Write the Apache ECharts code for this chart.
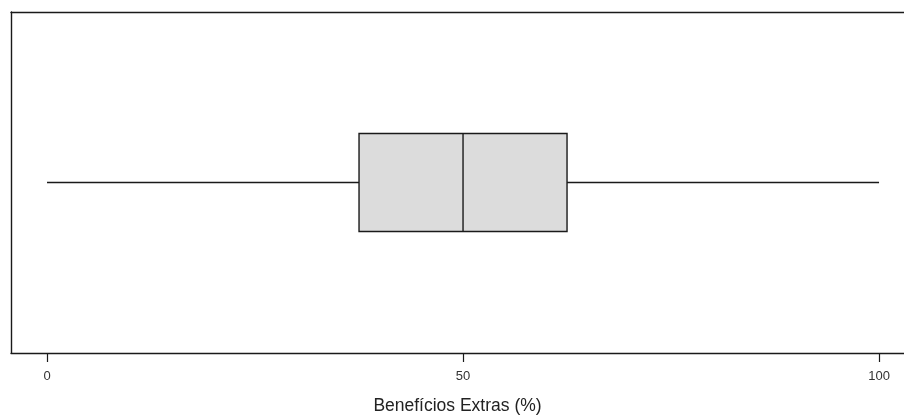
<!DOCTYPE html>
<html>
<head>
<meta charset="utf-8">
<script src="https://cdn.jsdelivr.net/npm/echarts@6/dist/echarts.min.js"></script>
<style>
html,body{margin:0;padding:0;background:#fff;}
#c{width:904px;height:417px;}
</style>
</head>
<body>
<div id="c"></div>
<script>
// Data
const categories = ['Benefícios Extras'];
const boxStats = [[0, 0, 37.5, 50, 62.5, 100]]; // [catIndex, min, Q1, median, Q3, max]
const tickValues = [0, 50, 100];
const axisTitle = 'Benefícios Extras (%)';

const chart = echarts.init(document.getElementById('c'), null, {renderer: 'canvas'});

const lineStyle = {stroke: '#1a1a1a', lineWidth: 1.4};
const frameLine = {color: '#1a1a1a', width: 1.4};
const xMin = -4.33, xMax = 103.0;

chart.setOption({
  animation: false,
  backgroundColor: '#fff',
  grid: {left: 11, top: 12, right: 0, height: 341, show: false, containLabel: false, outerBoundsMode: 'none'},
  xAxis: [{
    type: 'value',
    min: xMin, max: xMax,
    splitLine: {show: false},
    axisLine: {show: true, onZero: false, lineStyle: frameLine},
    axisTick: {show: true, length: 9, customValues: tickValues, lineStyle: {color: '#1a1a1a', width: 1.2}},
    axisLabel: {show: true, customValues: tickValues, margin: 17, fontSize: 13, color: '#333', fontFamily: 'Liberation Sans, Arial, sans-serif'},
    name: axisTitle,
    nameLocation: 'middle',
    nameGap: 44,
    nameTextStyle: {fontSize: 17.5, color: '#222', fontFamily: 'Liberation Sans, Arial, sans-serif'}
  }, {
    type: 'value',
    position: 'top',
    min: xMin, max: xMax,
    splitLine: {show: false},
    axisLine: {show: true, onZero: false, lineStyle: frameLine},
    axisTick: {show: false},
    axisLabel: {show: false}
  }],
  yAxis: {
    type: 'category',
    data: categories,
    axisLine: {show: true, onZero: false, lineStyle: frameLine},
    axisTick: {show: false},
    axisLabel: {show: false},
    splitLine: {show: false}
  },
  series: [{
    type: 'custom',
    data: boxStats,
    xAxisIndex: 0,
    encode: {x: [1, 2, 3, 4, 5], y: 0},
    renderItem: function (params, api) {
      const c = api.value(0);
      const pMin = api.coord([api.value(1), c]);
      const pQ1 = api.coord([api.value(2), c]);
      const pMed = api.coord([api.value(3), c]);
      const pQ3 = api.coord([api.value(4), c]);
      const pMax = api.coord([api.value(5), c]);
      const band = api.size([0, 1])[1];
      const h = band * 0.287;
      const yc = pMed[1];
      return {
        type: 'group',
        children: [
          {type: 'line', shape: {x1: pMin[0], y1: yc, x2: pQ1[0], y2: yc}, style: lineStyle},
          {type: 'line', shape: {x1: pQ3[0], y1: yc, x2: pMax[0], y2: yc}, style: lineStyle},
          {type: 'rect', shape: {x: pQ1[0], y: yc - h / 2, width: pQ3[0] - pQ1[0], height: h}, style: {fill: '#dcdcdc', stroke: '#1a1a1a', lineWidth: 1.4}},
          {type: 'line', shape: {x1: pMed[0], y1: yc - h / 2, x2: pMed[0], y2: yc + h / 2}, style: lineStyle}
        ]
      };
    }
  }]
});
</script>
</body>
</html>
